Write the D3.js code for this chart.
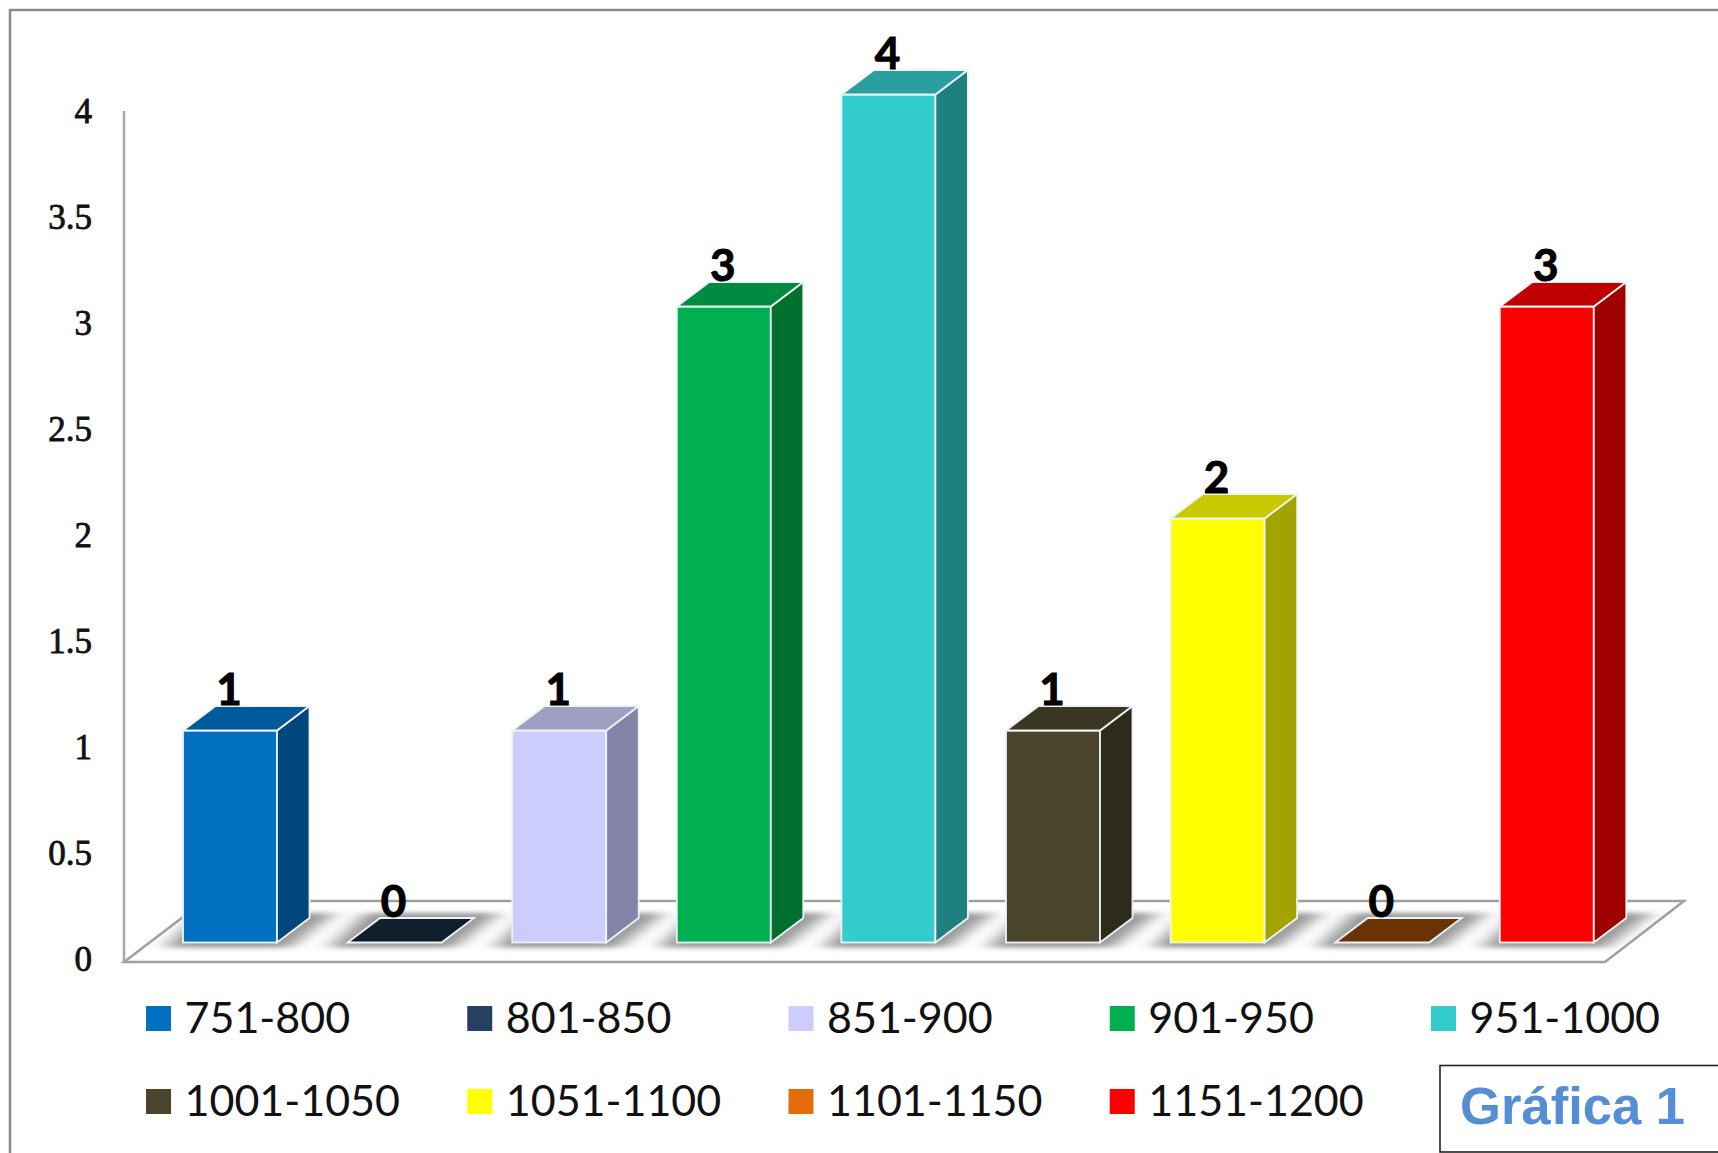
<!DOCTYPE html>
<html>
<head>
<meta charset="utf-8">
<script src="https://cdn.jsdelivr.net/npm/d3@7/dist/d3.min.js"></script>
<style>
  html, body { margin: 0; padding: 0; background: #fff; }
  svg { display: block; }
</style>
</head>
<body>
<script>
// Frequency of each value range
const categories = ["751-800", "801-850", "851-900", "901-950", "951-1000",
                    "1001-1050", "1051-1100", "1101-1150", "1151-1200"];
const counts = [1, 0, 1, 3, 4, 1, 2, 0, 3];
const yTicks = [0, 0.5, 1, 1.5, 2, 2.5, 3, 3.5, 4];

// Per-series colours: front face, top face, side face
const frontColors = ["#0070c0", "#254061", "#ccccff", "#00b050", "#33cccc", "#4a452a", "#ffff00", "#e46c0a", "#ff0000"];
const topColors   = ["#005a9a", "#111e2e", "#9f9fc4", "#008c40", "#299f9f", "#3b3722", "#c9c900", "#6b3304", "#c00000"];
const sideColors  = ["#00477b", "#0c1622", "#8483a8", "#00702f", "#1f8080", "#2e2b1a", "#a3a300", "#522703", "#a00000"];
const chartCaption = "Gráfica 1";

const W = 1718, H = 1153;
const svg = d3.select("body").append("svg").attr("width", W).attr("height", H);

// Outer chart frame, cut off by the right and bottom of the page
svg.append("path")
  .attr("d", d3.line()([[10, H], [10, 10], [W, 10]]))
  .attr("fill", "none").attr("stroke", "#8a8a8a").attr("stroke-width", 2.5);

// Scales: y runs on the front wall plane, bars stand further back on the floor
const y = d3.scaleLinear().domain([0, 4]).range([962, 114]);
const x = d3.scaleBand().domain(categories).range([147.7, 1629.1])
  .paddingInner(0.429).paddingOuter(0.2145);
const barLift = 19.5;    // bars sit this far above the floor's front edge
const depthX = 32.5, depthY = 24.5;

const defs = svg.append("defs");
defs.append("filter").attr("id", "soft")
  .attr("x", "-25%").attr("y", "-40%").attr("width", "150%").attr("height", "180%")
  .append("feGaussianBlur").attr("stdDeviation", "10 2.4");
defs.append("filter").attr("id", "lineGlow")
  .attr("x", "-5%").attr("y", "-500%").attr("width", "110%").attr("height", "1100%")
  .append("feGaussianBlur").attr("stdDeviation", 2.5);

// Floor of the 3D plot
const floorFront = y(0), floorBack = floorFront - 61;
const floorPts = [[124, floorFront], [1605, floorFront], [1684, floorBack], [204, floorBack]];
const floor = svg.append("g");
floor.append("path")
  .attr("d", d3.line()([[204, floorBack + 3], [1680, floorBack + 3]]))
  .attr("stroke", "#cfcfcf").attr("stroke-width", 3).attr("filter", "url(#lineGlow)").attr("fill", "none");
floor.append("path")
  .attr("d", d3.line()([[124, floorFront + 2], [1605, floorFront + 2]]))
  .attr("stroke", "#cfcfcf").attr("stroke-width", 3).attr("filter", "url(#lineGlow)").attr("fill", "none");
floor.append("path")
  .attr("d", d3.line().curve(d3.curveLinearClosed)(floorPts))
  .attr("fill", "none").attr("stroke", "#a0a0a0").attr("stroke-width", 2.5);

// Value axis
const axis = d3.axisLeft(y).tickValues(yTicks).tickSize(0).tickPadding(32).tickFormat(d => String(d));
const axisG = svg.append("g").attr("transform", "translate(124,0)").call(axis);
axisG.select(".domain").attr("stroke", "#a6a6a6").attr("stroke-width", 2.5)
  .attr("d", d3.line()([[0, y(0)], [0, y(4) - 3]]));
axisG.selectAll("text")
  .attr("dy", "0.32em")
  .attr("transform", "translate(0,-3)")
  .attr("fill", "#111")
  .attr("stroke", "#111").attr("stroke-width", 0.8)
  .style("font-family", "'Liberation Serif', serif")
  .style("font-size", "35px");

const bars = categories.map((c, i) => ({
  c, i, v: counts[i],
  x0: x(c), x1: x(c) + x.bandwidth(),
  base: y(0) - barLift, top: y(counts[i]) - barLift
}));
const poly = d3.line().curve(d3.curveLinearClosed);

// Blurred floor shadow under every bar
svg.append("g").selectAll("path").data(bars).join("path")
  .attr("d", d => poly([
    [d.x0 - 18, d.base + 5], [d.x1 + 12, d.base + 5],
    [d.x1 + 58, d.base - depthY - 5], [d.x0 + 18, d.base - depthY - 5]
  ]))
  .attr("fill", "#979797")
  .attr("filter", "url(#soft)");

const barG = svg.append("g").selectAll("g").data(bars).join("g");

// Front face
barG.filter(d => d.v > 0).append("rect")
  .attr("x", d => d.x0).attr("y", d => d.top)
  .attr("width", x.bandwidth()).attr("height", d => d.base - d.top)
  .attr("fill", d => frontColors[d.i])
  .attr("stroke", "#eef3f6").attr("stroke-width", 1.8);

// Side face
barG.filter(d => d.v > 0).append("path")
  .attr("d", d => poly([
    [d.x1, d.top], [d.x1 + depthX, d.top - depthY],
    [d.x1 + depthX, d.base - depthY], [d.x1, d.base]
  ]))
  .attr("fill", d => sideColors[d.i])
  .attr("stroke", "#eef3f6").attr("stroke-width", 1.8);

// Top face, the only visible one for an empty range
barG.append("path")
  .attr("d", d => poly([
    [d.x0, d.top], [d.x1, d.top],
    [d.x1 + depthX, d.top - depthY], [d.x0 + depthX, d.top - depthY]
  ]))
  .attr("fill", d => topColors[d.i])
  .attr("stroke", "#eef3f6").attr("stroke-width", 1.8);

// Value labels
barG.append("text")
  .attr("x", d => (d.x0 + d.x1) / 2 - 1)
  .attr("y", d => d.top - depthY - 1)
  .attr("text-anchor", "middle")
  .style("font-family", "Lato, sans-serif")
  .style("font-weight", 700)
  .style("font-size", "44px")
  .attr("fill", "#000")
  .attr("stroke", "#000").attr("stroke-width", 1)
  .text(d => d.v);

// Legend: five entries per row
const legendX = d3.scalePoint().domain(d3.range(5)).range([146, 1431]);
const legendY = d3.scalePoint().domain([0, 1]).range([1018, 1101]);
const legend = svg.append("g").selectAll("g").data(categories).join("g")
  .attr("transform", (d, i) => `translate(${legendX(i % 5)},${legendY(Math.floor(i / 5))})`);
legend.append("rect")
  .attr("x", 0).attr("y", -12).attr("width", 25).attr("height", 25)
  .attr("fill", (d, i) => frontColors[i]);
legend.append("text")
  .attr("x", 38.5).attr("dy", "0.35em")
  .style("font-family", "Lato, sans-serif")
  .style("font-size", "43px")
  .attr("fill", "#111")
  .text(d => d);

// Caption box
svg.append("rect")
  .attr("x", 1440).attr("y", 1065.5).attr("width", 290).attr("height", 86.5)
  .attr("fill", "#fff").attr("stroke", "#222").attr("stroke-width", 1.6);
svg.append("text")
  .attr("x", 1460).attr("y", 1124)
  .style("font-family", "'Liberation Sans', sans-serif")
  .style("font-weight", 700)
  .style("font-size", "52.6px")
  .attr("fill", "#558ed5")
  .text(chartCaption);
</script>
</body>
</html>
